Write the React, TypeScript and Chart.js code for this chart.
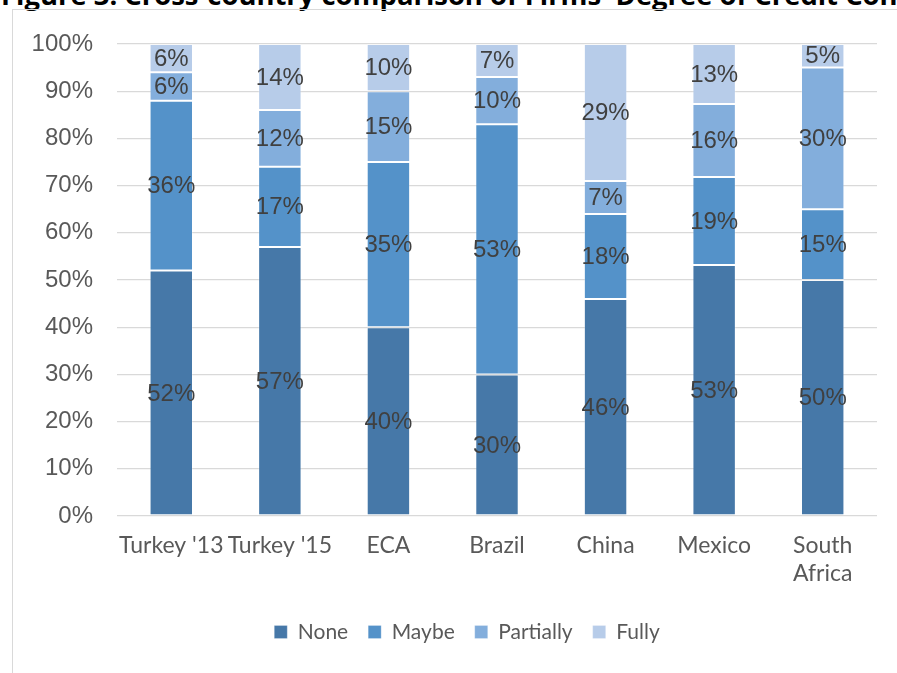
import React, { useEffect, useLayoutEffect, useRef, useState } from "react";
import { Chart, registerables } from "chart.js";

Chart.register(...registerables);

const TITLE_VISIBLE = "Figure 3: Cross-country comparison of Firms' Degree of Credit Con";
const TITLE_REST = "straints";
const categories: (string | string[])[] = ["Turkey '13", "Turkey '15", "ECA", "Brazil", "China", "Mexico", ["South", "Africa"]];
const seriesNames = ["None", "Maybe", "Partially", "Fully"];
const noneVals = [52, 57, 40, 30, 46, 53.2, 50];
const maybeVals = [36, 17, 35, 53, 18, 18.6, 15];
const partiallyVals = [6, 12, 15, 10, 7, 15.5, 30];
const fullyVals = [6, 14, 10, 7, 29, 12.7, 5];
const seriesColors = ["#4678a8", "#5492c9", "#83aedc", "#b7cce9"];
const yTicks = [0, 10, 20, 30, 40, 50, 60, 70, 80, 90, 100];

const rawSeries = [noneVals, maybeVals, partiallyVals, fullyVals];
const totals = categories.map((_, i) => rawSeries.reduce((s, arr) => s + arr[i], 0));

const labelPlugin = {
  id: "segLabels",
  afterDatasetsDraw(chart: any) {
    const ctx = chart.ctx;
    ctx.save();
    ctx.font = '24px "Liberation Sans", Arial, sans-serif';
    ctx.fillStyle = "#404040";
    ctx.textAlign = "center";
    ctx.textBaseline = "middle";
    chart.data.datasets.forEach((ds: any, di: number) => {
      const meta = chart.getDatasetMeta(di);
      meta.data.forEach((bar: any, i: number) => {
        const raw = rawSeries[di][i];
        const yc = (bar.y + bar.base) / 2;
        ctx.fillText(Math.round(raw) + "%", bar.x, yc + 1);
      });
    });
    ctx.restore();
  },
};

export default function App() {
  const ref = useRef<HTMLCanvasElement>(null);
  const titleRef = useRef<HTMLSpanElement>(null);
  const [titleSize, setTitleSize] = useState(25);

  useLayoutEffect(() => {
    if (!titleRef.current) return;
    const w = titleRef.current.getBoundingClientRect().width;
    if (w > 0 && titleSize === 25) setTitleSize((25 * 897) / w);
  }, [titleSize]);

  useEffect(() => {
    if (!ref.current) return;
    const chart = new Chart(ref.current, {
      type: "bar",
      data: {
        labels: categories as any,
        datasets: rawSeries.map((arr, di) => ({
          label: seriesNames[di],
          data: arr.map((v, i) => (v / totals[i]) * 100),
          backgroundColor: seriesColors[di],
          borderColor: "rgba(255,255,255,0.25)",
          borderWidth: 1,
          borderSkipped: false,
          barPercentage: 0.4,
          categoryPercentage: 1.0,
        })),
      },
      options: {
        responsive: false,
        devicePixelRatio: 1,
        animation: false,
        layout: { padding: { top: 34, right: 0, bottom: 47.5, left: 0 } },
        plugins: {
          tooltip: { enabled: false },
          legend: {
            position: "bottom",
            labels: {
              boxWidth: 13,
              boxHeight: 13,
              padding: 20,
              color: "#595959",
              font: { family: "Lato, 'Open Sans', sans-serif", size: 21 },
            },
          },
        },
        scales: {
          x: {
            stacked: true,
            grid: { display: false, drawTicks: false },
            border: { display: false },
            ticks: {
              color: "#595959",
              padding: 16,
              maxRotation: 0,
              autoSkip: false,
              font: { family: "Lato, 'Open Sans', sans-serif", size: 23, lineHeight: 1.2 },
            },
            afterFit: (s: any) => { s.height = 85.5; },
          },
          y: {
            stacked: true,
            min: 0,
            max: 100,
            grid: { color: "#d9d9d9", lineWidth: 1.3, drawTicks: false },
            border: { display: false },
            afterBuildTicks: (s: any) => { s.ticks = yTicks.map((v) => ({ value: v })); },
            ticks: {
              color: "#595959",
              padding: 24,
              font: { family: "'Liberation Sans', Arial, sans-serif", size: 24 },
              callback: (v: any) => v + "%",
            },
            afterFit: (s: any) => { s.width = 104; s.paddingTop = 0; s.paddingBottom = 0; },
          },
          yPad: {
            type: "linear",
            position: "right",
            display: true,
            grid: { display: false, drawTicks: false },
            border: { display: false },
            ticks: { display: false },
            afterFit: (s: any) => { s.width = 44; s.paddingTop = 0; s.paddingBottom = 0; },
          },
        },
      },
      plugins: [labelPlugin],
    });
    return () => chart.destroy();
  }, []);

  return (
    <div style={{ position: "fixed", left: 0, top: 0, width: 897, height: 673, overflow: "hidden", background: "#fff" }}>
      <div
        style={{
          position: "absolute",
          left: 1,
          top: 5 - 0.888 * titleSize,
          fontFamily: "'Open Sans', Lato, sans-serif",
          fontWeight: 700,
          fontSize: titleSize,
          lineHeight: titleSize + "px",
          whiteSpace: "nowrap",
          color: "#000",
        }}
      >
        <span ref={titleRef}>{TITLE_VISIBLE}</span>
        <span>{TITLE_REST}</span>
      </div>
      <div style={{ position: "absolute", left: 12, top: 9, width: 1000, height: 1000, border: "1px solid #d9d9d9" }} />
      <div style={{ position: "absolute", left: 13, top: 10 }}>
        <canvas ref={ref} width={908} height={690} style={{ width: 908, height: 690, display: "block" }} />
      </div>
    </div>
  );
}
